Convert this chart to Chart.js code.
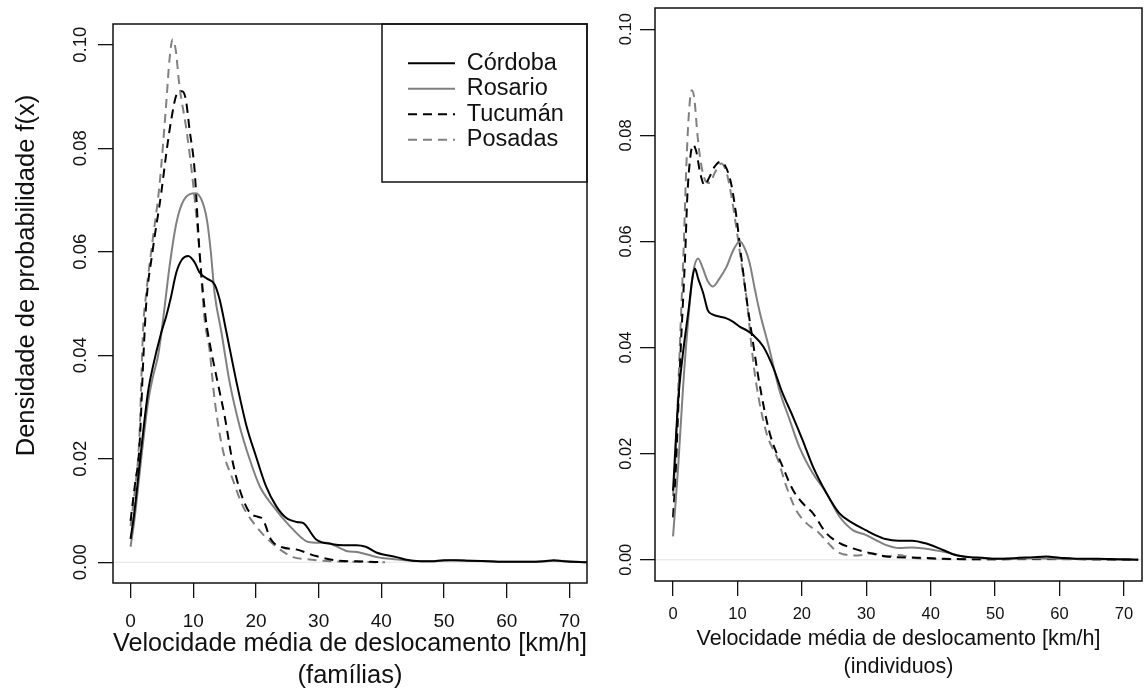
<!DOCTYPE html>
<html>
<head>
<meta charset="utf-8">
<title>Velocidade média de deslocamento</title>
<script src="https://cdn.jsdelivr.net/npm/chart.js@4.4.0/dist/chart.umd.min.js"></script>
<style>
  html, body { margin: 0; padding: 0; background: #fff; }
  #wrap { position: relative; width: 1144px; height: 693px; overflow: hidden; }
  canvas { position: absolute; top: 0; }
  #chartFam { left: 0; }
  #chartInd { left: 580px; }
</style>
</head>
<body>
<div id="wrap">
  <canvas id="chartFam" width="600" height="693"></canvas>
  <canvas id="chartInd" width="564" height="693"></canvas>
</div>
<script>
// axis ticks shared by both panels
const xTicks = [0, 10, 20, 30, 40, 50, 60, 70];
const yTicks = [0, 0.02, 0.04, 0.06, 0.08, 0.10];
const cities = ['Córdoba', 'Rosario', 'Tucumán', 'Posadas'];

// densities by household (famílias)
const famCordobaX = [0, 0.6, 1.7, 2.8, 3.6, 4.9, 5.7, 6.4, 7.3, 8.2, 9.2, 10.2, 11, 12.2, 13.4, 14.2, 15.3, 16.9, 18.5, 20, 21.6, 23.2, 24.8, 26.5, 27.5, 29.6, 32.2, 34, 36, 37.5, 39.2, 42.4, 45, 48, 50, 52, 54, 57, 60, 63, 66, 67.5, 69, 72.8];
const famCordobaY = [0.0045, 0.0096, 0.0218, 0.033, 0.038, 0.0444, 0.0476, 0.051, 0.056, 0.0585, 0.0592, 0.058, 0.056, 0.0548, 0.0537, 0.0508, 0.0444, 0.0348, 0.0263, 0.0205, 0.0147, 0.0109, 0.0086, 0.0078, 0.0076, 0.0044, 0.0035, 0.0033, 0.0033, 0.003, 0.0019, 0.001, 0.0003, 0.0002, 0.0004, 0.0004, 0.0003, 0.0002, 0.0001, 0.0001, 0.0002, 0.0004, 0.0002, 0];
const famRosarioX = [0, 0.6, 1.7, 2.8, 3.6, 4.4, 5.2, 6.2, 7.3, 8.5, 10.4, 11.5, 12.2, 12.8, 13.4, 14.5, 15.8, 17.4, 19, 20.6, 22.7, 25.4, 28, 29.5, 31.2, 34.4, 36.5, 39.7, 42, 45, 48, 51, 54, 57, 60, 63, 66, 68, 70, 72.8];
const famRosarioY = [0.003, 0.008, 0.02, 0.031, 0.036, 0.04, 0.047, 0.057, 0.0655, 0.07, 0.0713, 0.0695, 0.066, 0.06, 0.052, 0.0444, 0.0348, 0.0263, 0.0199, 0.0147, 0.0109, 0.007, 0.0041, 0.0038, 0.0038, 0.0022, 0.0019, 0.0009, 0.0006, 0.0003, 0.0002, 0.0004, 0.0003, 0.0002, 0.0001, 0.0001, 0.0002, 0.0003, 0.0002, 0];
const famTucumanX = [0, 0.7, 1.4, 2.1, 2.5, 3.5, 4.9, 5.7, 6.5, 7.4, 8.2, 8.8, 9.4, 10.2, 11, 12, 12.6, 13.9, 15, 16.1, 17.4, 19, 20.3, 21.1, 22.4, 24.2, 26.4, 29.6, 33.3, 36, 40.5];
const famTucumanY = [0.008, 0.015, 0.022, 0.041, 0.05, 0.06, 0.0714, 0.079, 0.0856, 0.0905, 0.091, 0.0895, 0.0837, 0.076, 0.06, 0.047, 0.0425, 0.0347, 0.0283, 0.0205, 0.0141, 0.0096, 0.0088, 0.0083, 0.0044, 0.0029, 0.0025, 0.0012, 0.0003, 0.0002, 0];
const famPosadasX = [0, 0.7, 1.4, 2, 2.5, 3.5, 4.6, 5.7, 6.2, 6.7, 7.2, 7.8, 8.9, 9.9, 11, 11.8, 12.6, 13.4, 14.7, 16.3, 17.9, 20, 21.6, 23.8, 25.9, 28, 32, 36, 40.5];
const famPosadasY = [0.007, 0.014, 0.024, 0.045, 0.052, 0.062, 0.0727, 0.0888, 0.097, 0.101, 0.099, 0.092, 0.0837, 0.074, 0.06, 0.047, 0.041, 0.0315, 0.0218, 0.016, 0.0109, 0.007, 0.0048, 0.0025, 0.001, 0.0006, 0.0002, 0.0001, 0];

// densities by person (individuos)
const indCordobaX = [0, 0.8, 1.6, 2.4, 3, 3.4, 3.9, 4.7, 5.4, 6.2, 7.3, 8.3, 9.4, 10.4, 11.5, 12.4, 14, 15.5, 17, 18.6, 20.1, 21.7, 23.8, 25.8, 27.9, 29.9, 31.5, 33, 35, 37.1, 39.2, 41.8, 43.8, 46, 48, 50, 53, 56, 58, 60, 63, 66, 69, 72.2];
const indCordobaY = [0.013, 0.03, 0.0395, 0.047, 0.053, 0.0549, 0.053, 0.0502, 0.047, 0.0462, 0.0458, 0.0455, 0.0448, 0.0439, 0.0432, 0.0424, 0.0402, 0.0364, 0.0314, 0.027, 0.0226, 0.0176, 0.0126, 0.0088, 0.0069, 0.0056, 0.0046, 0.0039, 0.0036, 0.0036, 0.0031, 0.0019, 0.0009, 0.0005, 0.0004, 0.0002, 0.0003, 0.0005, 0.0006, 0.0004, 0.0002, 0.0002, 0.0001, 0];
const indRosarioX = [0, 0.8, 1.6, 2.4, 3.1, 3.9, 4.6, 5.4, 6.2, 7.2, 8.3, 9.4, 10.4, 11.2, 11.9, 12.7, 13.4, 15, 16.5, 18.1, 19.6, 21.7, 23.8, 25.8, 27.9, 29.9, 31.5, 33, 35.1, 37.1, 40.2, 42.8, 45, 48, 52, 56, 60, 65, 72.2];
const indRosarioY = [0.0044, 0.0176, 0.0333, 0.0458, 0.054, 0.0568, 0.055, 0.0525, 0.0515, 0.053, 0.0552, 0.0585, 0.06, 0.0585, 0.0559, 0.051, 0.047, 0.0395, 0.032, 0.0264, 0.0213, 0.0163, 0.0126, 0.0082, 0.0056, 0.0047, 0.0037, 0.0028, 0.0022, 0.0023, 0.0019, 0.0013, 0.0006, 0.0003, 0.0002, 0.0003, 0.0002, 0.0001, 0];
const indTucumanX = [0, 0.4, 0.8, 1.2, 1.6, 1.9, 2.2, 2.6, 3.1, 3.6, 4.2, 4.9, 5.6, 6.4, 7.3, 8.2, 9, 9.8, 10.6, 11.5, 12.2, 13.4, 15, 17, 18.6, 20.1, 21.7, 23.8, 25.8, 27.8, 30.5, 34, 38, 42, 46, 50, 55, 60, 65, 72.2];
const indTucumanY = [0.008, 0.016, 0.028, 0.04, 0.05, 0.058, 0.068, 0.075, 0.0782, 0.077, 0.073, 0.0706, 0.072, 0.074, 0.075, 0.074, 0.071, 0.065, 0.057, 0.0484, 0.0427, 0.0333, 0.0239, 0.0176, 0.0132, 0.0107, 0.0088, 0.005, 0.0032, 0.0022, 0.0013, 0.0005, 0.0004, 0.0002, 0.0001, 0.0001, 0.0002, 0.0002, 0.0001, 0];
const indPosadasX = [0, 0.4, 0.8, 1.2, 1.6, 2, 2.4, 2.9, 3.3, 3.8, 4.3, 5, 5.7, 6.5, 7.5, 8.3, 9, 9.8, 10.6, 11.5, 12.2, 12.9, 14.5, 16.3, 17.6, 19.1, 20.7, 22.7, 24.2, 25.8, 28.7, 31, 33, 35, 37, 40, 45, 50, 60, 72.2];
const indPosadasY = [0.012, 0.02, 0.032, 0.045, 0.057, 0.072, 0.083, 0.0885, 0.087, 0.08, 0.075, 0.0715, 0.071, 0.073, 0.0747, 0.073, 0.069, 0.0628, 0.056, 0.0484, 0.04, 0.0333, 0.0239, 0.0188, 0.0138, 0.0094, 0.0069, 0.005, 0.003, 0.0013, 0.0008, 0.0012, 0.0006, 0.0009, 0.0004, 0.0002, 0.0001, 0.0001, 0.0001, 0];

const lineColors = ['#000000', '#808080', '#000000', '#808080'];
const lineDashes = [[], [], [9, 6], [9, 6]];

const LEGEND_W = 205;
const LEGEND_H = 158;
const FONT = "'Liberation Sans', Arial, sans-serif";

Chart.defaults.font.family = FONT;
Chart.defaults.color = '#111';

function toPoints(xs, ys) {
    return xs.map(function (x, i) { return { x: x, y: ys[i] }; });
}

// box around the plot region, light line at zero, legend frame, y label
const plotFrame = {
    id: 'plotFrame',
    afterLayout: function (chart) {
        var lg = chart.legend;
        if (!lg || !lg.options.display) return;
        var a = chart.chartArea;
        lg.left = a.right - LEGEND_W + 24;
        lg.right = a.right;
        lg.top = a.top + 25.5;
    },
    beforeDatasetsDraw: function (chart) {
        var ctx = chart.ctx, a = chart.chartArea;
        var y0 = chart.scales.y.getPixelForValue(0);
        ctx.save();
        ctx.strokeStyle = '#e4e4e4';
        ctx.lineWidth = 1;
        ctx.beginPath();
        ctx.moveTo(a.left, y0);
        ctx.lineTo(a.right, y0);
        ctx.stroke();
        ctx.restore();
    },
    afterDraw: function (chart, args, opts) {
        var ctx = chart.ctx, a = chart.chartArea;
        ctx.save();
        ctx.strokeStyle = '#111';
        ctx.lineWidth = 1.5;
        ctx.strokeRect(a.left, a.top, a.right - a.left, a.bottom - a.top);
        if (chart.legend && chart.legend.options.display) {
            ctx.strokeRect(a.right - LEGEND_W, a.top, LEGEND_W, LEGEND_H);
        }
        if (opts.yTitle) {
            ctx.translate(opts.yTitleX, (a.top + a.bottom) / 2 + opts.yTitleShift);
            ctx.rotate(-Math.PI / 2);
            ctx.fillStyle = '#111';
            ctx.font = opts.yTitleSize + 'px ' + FONT;
            ctx.textAlign = 'center';
            ctx.textBaseline = 'middle';
            ctx.fillText(opts.yTitle, 0, 0);
        }
        ctx.restore();
    }
};

function makePanel(p) {
    var datasets = p.series.map(function (s, i) {
        return {
            label: cities[i],
            data: toPoints(s[0], s[1]),
            borderColor: lineColors[i],
            borderDash: lineDashes[i],
            borderWidth: 2,
            pointRadius: 0,
            fill: false,
            cubicInterpolationMode: 'monotone'
        };
    });

    return new Chart(document.getElementById(p.canvas), {
        type: 'line',
        data: { datasets: datasets },
        plugins: [plotFrame],
        options: {
            responsive: false,
            animation: false,
            devicePixelRatio: 1,
            layout: { padding: p.pad },
            plugins: {
                tooltip: { enabled: false },
                plotFrame: { yTitle: p.yTitle, yTitleX: 27, yTitleShift: -28, yTitleSize: p.titleSize },
                legend: {
                    display: p.legend,
                    position: 'chartArea',
                    align: 'start',
                    labels: {
                        usePointStyle: true,
                        pointStyle: 'line',
                        pointStyleWidth: 47,
                        padding: 2,
                        color: '#111',
                        font: { size: 23.5 },
                        generateLabels: function (chart) {
                            var items = Chart.defaults.plugins.legend.labels.generateLabels(chart);
                            items.forEach(function (it) {
                                var ds = chart.data.datasets[it.datasetIndex];
                                it.lineDash = ds.borderDash;
                                it.lineWidth = ds.borderWidth;
                                it.strokeStyle = ds.borderColor;
                            });
                            return items;
                        }
                    }
                }
            },
            scales: {
                x: {
                    type: 'linear',
                    min: -2.8,
                    max: 72.8,
                    afterBuildTicks: function (s) { s.ticks = xTicks.map(function (v) { return { value: v }; }); },
                    afterFit: function (s) { s.height = p.xAxisH; },
                    border: { display: false },
                    grid: { drawOnChartArea: false, drawTicks: true, tickLength: p.tickLen, color: '#111', lineWidth: 1.3 },
                    ticks: {
                        autoSkip: false, maxRotation: 0, minRotation: 0,
                        padding: p.xTickPad, color: '#111', font: { size: p.tickSize },
                        callback: function (v) { return String(v); }
                    },
                    title: {
                        display: true, text: p.xTitle, color: '#111',
                        font: { size: p.titleSize, lineHeight: p.titleLH },
                        padding: { top: 0, bottom: p.xTitlePad }
                    }
                },
                y: {
                    type: 'linear',
                    min: -0.004,
                    max: 0.104,
                    afterBuildTicks: function (s) { s.ticks = yTicks.map(function (v) { return { value: v }; }); },
                    afterFit: function (s) { s.width = p.yAxisW; },
                    border: { display: false },
                    grid: { drawOnChartArea: false, drawTicks: true, tickLength: p.tickLen, color: '#111', lineWidth: 1.3 },
                    ticks: {
                        autoSkip: false, minRotation: 90, maxRotation: 90, crossAlign: 'center',
                        padding: p.yTickPad, color: '#111', font: { size: p.yTickSize },
                        callback: function (v) { return v.toFixed(2); }
                    }
                }
            }
        }
    });
}

// left: famílias
makePanel({
    canvas: 'chartFam',
    pad: { left: 0, top: 24, right: 13, bottom: 0 },
    yAxisW: 113, xAxisH: 110,
    tickLen: 15, tickSize: 19, yTickSize: 18.5, xTickPad: 12, yTickPad: -1,
    titleSize: 25.5, titleLH: 32 / 25.5, xTitlePad: 1,
    xTitle: ['Velocidade média de deslocamento [km/h]', '(famílias)'],
    yTitle: 'Densidade de probabilidade f(x)',
    legend: true,
    series: [
        [famCordobaX, famCordobaY],
        [famRosarioX, famRosarioY],
        [famTucumanX, famTucumanY],
        [famPosadasX, famPosadasY]
    ]
});

// right: individuos
makePanel({
    canvas: 'chartInd',
    pad: { left: 0, top: 8, right: 2, bottom: 0 },
    yAxisW: 75, xAxisH: 112,
    tickLen: 15, tickSize: 16.5, yTickSize: 16.5, xTickPad: 9, yTickPad: -2.5,
    titleSize: 21.5, titleLH: 28 / 21.5, xTitlePad: 12,
    xTitle: ['Velocidade média de deslocamento [km/h]', '(individuos)'],
    yTitle: null,
    legend: false,
    series: [
        [indCordobaX, indCordobaY],
        [indRosarioX, indRosarioY],
        [indTucumanX, indTucumanY],
        [indPosadasX, indPosadasY]
    ]
});
</script>
</body>
</html>
